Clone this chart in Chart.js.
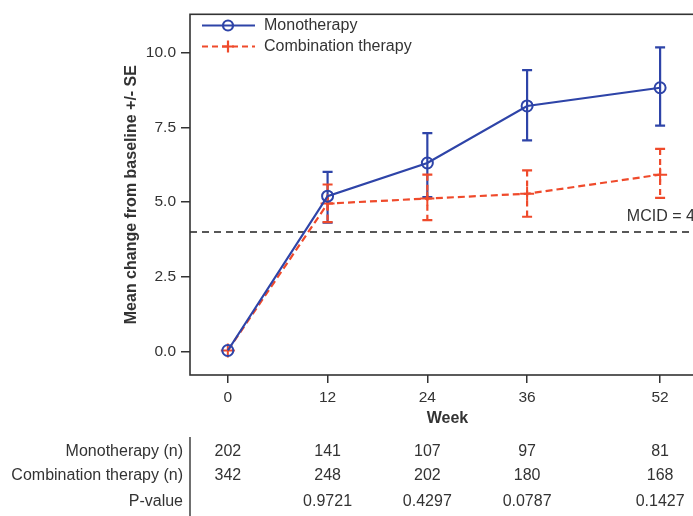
<!DOCTYPE html>
<html>
<head>
<meta charset="utf-8">
<script src="https://cdn.jsdelivr.net/npm/chart.js@4.4.1/dist/chart.umd.min.js"></script>
<style>
  html, body { margin: 0; padding: 0; background: #fff; overflow: hidden; }
  #wrap { position: absolute; left: 0; top: 0; width: 800px; height: 516px; }
</style>
</head>
<body>
<div id="wrap"><canvas id="chart" width="800" height="516"></canvas></div>
<script>
// values
const weeks = [0, 12, 24, 36, 52];
const yTicks = [0, 2.5, 5, 7.5, 10];

const monoMean = [0.03, 5.2, 6.31, 8.22, 8.83];
const monoLower = [0.03, 4.31, 5.17, 7.07, 7.56];
const monoUpper = [0.03, 6.01, 7.31, 9.42, 10.18];

const comboMean = [0.03, 4.95, 5.12, 5.28, 5.92];
const comboLower = [0.03, 4.33, 4.40, 4.51, 5.14];
const comboUpper = [0.03, 5.59, 5.92, 6.06, 6.78];

const monoN = ['202', '141', '107', '97', '81'];
const comboN = ['342', '248', '202', '180', '168'];
const pValues = ['', '0.9721', '0.4297', '0.0787', '0.1427'];

const mcid = 4;

const BLUE = '#2e44a8';
const RED = '#ef4a2b';
const TEXT = '#333';
const FONT = '"Liberation Sans", Arial, sans-serif';

Chart.defaults.font.family = FONT;
Chart.defaults.color = TEXT;

const toPoints = (ys) => weeks.map((w, i) => ({ x: w, y: ys[i] }));

// error bars, frame, reference line, legend and the n-table
const extras = {
    id: 'extras',
    beforeDatasetsDraw(chart) {
        const { ctx, chartArea: a, scales: { x, y } } = chart;
        ctx.save();
        // MCID line
        const my = y.getPixelForValue(mcid);
        ctx.strokeStyle = '#222';
        ctx.lineWidth = 1.6;
        ctx.setLineDash([7, 5]);
        ctx.beginPath();
        ctx.moveTo(a.left, my);
        ctx.lineTo(a.right, my);
        ctx.stroke();
        ctx.setLineDash([]);
        ctx.fillStyle = TEXT;
        ctx.font = '16px ' + FONT;
        ctx.textAlign = 'left';
        ctx.textBaseline = 'middle';
        ctx.fillText('MCID = 4', x.getPixelForValue(48), my - 15);

        // error bars
        const bars = [
            { lo: monoLower, hi: monoUpper, color: BLUE, dash: [] },
            { lo: comboLower, hi: comboUpper, color: RED, dash: [6, 4] }
        ];
        bars.forEach(b => {
            weeks.forEach((w, i) => {
                if (b.hi[i] === b.lo[i]) return;
                const px = x.getPixelForValue(w);
                const top = y.getPixelForValue(b.hi[i]);
                const bot = y.getPixelForValue(b.lo[i]);
                ctx.strokeStyle = b.color;
                ctx.lineWidth = 2.2;
                ctx.setLineDash(b.dash);
                ctx.beginPath();
                ctx.moveTo(px, top);
                ctx.lineTo(px, bot);
                ctx.stroke();
                ctx.setLineDash([]);
                ctx.beginPath();
                ctx.moveTo(px - 5, top); ctx.lineTo(px + 5, top);
                ctx.moveTo(px - 5, bot); ctx.lineTo(px + 5, bot);
                ctx.stroke();
            });
        });
        ctx.restore();
    },
    afterDraw(chart) {
        const { ctx, chartArea: a, scales: { x } } = chart;
        ctx.save();
        // frame
        ctx.strokeStyle = '#333';
        ctx.lineWidth = 1.6;
        ctx.strokeRect(a.left, a.top, a.right - a.left, a.bottom - a.top);

        // legend
        const items = [
            { label: 'Monotherapy', color: BLUE, dash: [], y: 25.5, mark: 'circle' },
            { label: 'Combination therapy', color: RED, dash: [6, 4], y: 46.5, mark: 'cross' }
        ];
        items.forEach(it => {
            ctx.strokeStyle = it.color;
            ctx.lineWidth = 2.2;
            ctx.setLineDash(it.dash);
            ctx.beginPath();
            ctx.moveTo(a.left + 12, it.y);
            ctx.lineTo(a.left + 65, it.y);
            ctx.stroke();
            ctx.setLineDash([]);
            const cx = a.left + 38;
            ctx.beginPath();
            if (it.mark === 'circle') {
                ctx.arc(cx, it.y, 5, 0, Math.PI * 2);
            } else {
                ctx.moveTo(cx - 6, it.y); ctx.lineTo(cx + 6, it.y);
                ctx.moveTo(cx, it.y - 6); ctx.lineTo(cx, it.y + 6);
            }
            ctx.stroke();
            ctx.fillStyle = TEXT;
            ctx.font = '16px ' + FONT;
            ctx.textAlign = 'left';
            ctx.textBaseline = 'middle';
            ctx.fillText(it.label, a.left + 74, it.y);
        });

        // table below
        const rows = [
            { label: 'Monotherapy (n)', vals: monoN, y: 452 },
            { label: 'Combination therapy (n)', vals: comboN, y: 476 },
            { label: 'P-value', vals: pValues, y: 502 }
        ];
        ctx.fillStyle = TEXT;
        ctx.font = '16px ' + FONT;
        ctx.textBaseline = 'middle';
        rows.forEach(r => {
            ctx.textAlign = 'right';
            ctx.fillText(r.label, a.left - 7, r.y);
            ctx.textAlign = 'center';
            r.vals.forEach((v, i) => {
                if (v) ctx.fillText(v, x.getPixelForValue(weeks[i]), r.y);
            });
        });
        ctx.strokeStyle = '#333';
        ctx.lineWidth = 1.4;
        ctx.beginPath();
        ctx.moveTo(a.left, 437);
        ctx.lineTo(a.left, 516);
        ctx.stroke();
        ctx.restore();
    }
};

new Chart(document.getElementById('chart'), {
    type: 'line',
    data: {
        datasets: [
            {
                label: 'Monotherapy',
                data: toPoints(monoMean),
                borderColor: BLUE,
                borderWidth: 2.2,
                pointStyle: 'circle',
                pointRadius: 5.5,
                pointBorderWidth: 2,
                pointBackgroundColor: 'rgba(0,0,0,0)',
                pointBorderColor: BLUE,
                tension: 0
            },
            {
                label: 'Combination therapy',
                data: toPoints(comboMean),
                borderColor: RED,
                borderWidth: 2.2,
                borderDash: [7, 4],
                pointStyle: 'cross',
                pointRadius: 7,
                pointBorderWidth: 2,
                pointBorderColor: RED,
                tension: 0
            }
        ]
    },
    options: {
        responsive: false,
        animation: false,
        devicePixelRatio: 1,
        layout: { padding: { left: 118, top: 12, right: 95, bottom: 84 } },
        plugins: { legend: { display: false }, tooltip: { enabled: false } },
        scales: {
            x: {
                type: 'linear',
                min: -4.55,
                max: 57.4,
                afterFit: (s) => { s.height = 57; },
                afterBuildTicks: (s) => { s.ticks = weeks.map(v => ({ value: v })); },
                ticks: { font: { size: 15.5 }, color: TEXT, padding: 5, maxRotation: 0 },
                grid: { drawOnChartArea: false, tickLength: 8, color: '#333', lineWidth: 1.5 },
                border: { display: false },
                title: { display: true, text: 'Week', font: { size: 16, weight: 'bold' }, color: TEXT }
            },
            y: {
                min: -0.79,
                max: 11.29,
                afterFit: (s) => { s.width = 72; },
                afterBuildTicks: (s) => { s.ticks = yTicks.map(v => ({ value: v })); },
                ticks: { font: { size: 15.5 }, color: TEXT, padding: 5, callback: (v) => v.toFixed(1) },
                grid: { drawOnChartArea: false, tickLength: 9, color: '#333', lineWidth: 1.5 },
                border: { display: false },
                title: { display: true, text: 'Mean change from baseline +/- SE', font: { size: 16, weight: 'bold' }, color: TEXT }
            }
        }
    },
    plugins: [extras]
});
</script>
</body>
</html>
